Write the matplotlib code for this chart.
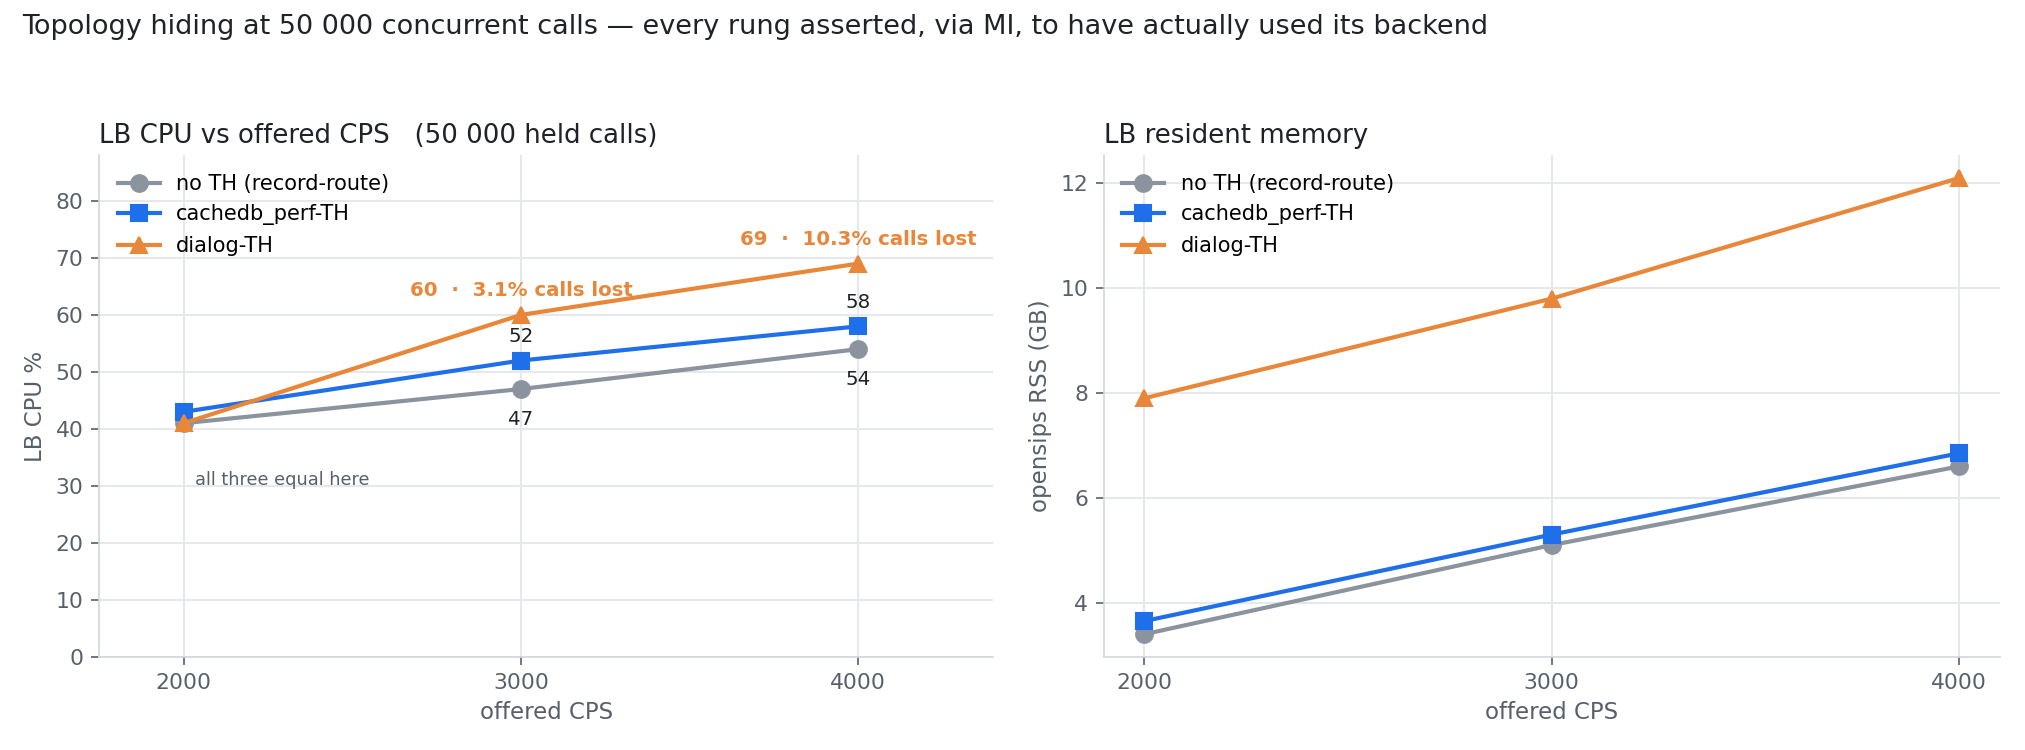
import matplotlib
matplotlib.use("Agg")
import matplotlib.pyplot as plt

# offered load and measurements per topology-hiding variant
cps = [2000, 3000, 4000]
labels = ["no TH (record-route)", "cachedb_perf-TH", "dialog-TH"]
cpu_noth = [41, 47, 54]
cpu_cachedb = [43, 52, 58]
cpu_dialog = [41, 60, 69]
rss_noth = [3.4, 5.1, 6.6]
rss_cachedb = [3.65, 5.3, 6.85]
rss_dialog = [7.9, 9.8, 12.1]
lost_pct = [None, 3.1, 10.3]  # dialog-TH calls lost

colors = ["#8b939e", "#1f6feb", "#e8873a"]
markers = ["o", "s", "^"]
text_c = "#1f2328"
tick_c = "#57606a"
grid_c = "#e6e8eb"
spine_c = "#d0d7de"

plt.rcParams["font.family"] = "DejaVu Sans"

fig = plt.figure(figsize=(13.5, 5), dpi=150)
ax1 = fig.add_axes([0.049, 0.124, 0.4415, 0.669])
ax2 = fig.add_axes([0.545, 0.124, 0.4425, 0.669])

fig.text(0.011, 0.964, "Topology hiding at 50 000 concurrent calls \u2014 every rung asserted, via MI, "
         "to have actually used its backend", fontsize=13, color=text_c, ha="left", va="center")


def style(ax):
    ax.grid(True, color=grid_c, lw=1)
    ax.set_axisbelow(True)
    for s in ["top", "right"]:
        ax.spines[s].set_visible(False)
    for s in ["left", "bottom"]:
        ax.spines[s].set_color(spine_c)
    ax.tick_params(colors=tick_c, labelsize=10.5, length=4)
    ax.set_xticks(cps)
    ax.set_xlabel("offered CPS", fontsize=11, color=tick_c)


for ax, series in [(ax1, [cpu_noth, cpu_cachedb, cpu_dialog]),
                   (ax2, [rss_noth, rss_cachedb, rss_dialog])]:
    for y, lab, c, m in zip(series, labels, colors, markers):
        ax.plot(cps, y, color=c, marker=m, lw=2, ms=8, label=lab, zorder=3)
    style(ax)
    ax.legend(loc="upper left", frameon=False, fontsize=10)

# left: CPU
ax1.set_xlim(1750, 4400)
ax1.set_ylim(0, 88)
ax1.set_ylabel("LB CPU %", fontsize=11, color=tick_c)
ax1.set_title("LB CPU vs offered CPS   (50 000 held calls)", loc="left", fontsize=12.5, color=text_c)

for x, v in zip(cps[1:], cpu_cachedb[1:]):
    ax1.annotate(str(v), (x, v), xytext=(0, 7), textcoords="offset points",
                 ha="center", va="bottom", fontsize=9.5, color=text_c)
for x, v in zip(cps[1:], cpu_noth[1:]):
    ax1.annotate(str(v), (x, v), xytext=(0, -10), textcoords="offset points",
                 ha="center", va="top", fontsize=9.5, color=text_c)
for x, v, p in zip(cps, cpu_dialog, lost_pct):
    if p is None:
        continue
    ax1.annotate(f"{v}  \u00b7  {p}% calls lost", (x, v), xytext=(0, 7), textcoords="offset points",
                 ha="center", va="bottom", fontsize=9.5, color=colors[2], fontweight="bold")
ax1.text(2035, 31, "all three equal here", fontsize=8.5, color=tick_c, ha="left", va="center")

# right: memory
ax2.set_ylabel("opensips RSS (GB)", fontsize=11, color=tick_c)
ax2.set_title("LB resident memory", loc="left", fontsize=12.5, color=text_c)

fig.savefig("out.png", dpi=150)
